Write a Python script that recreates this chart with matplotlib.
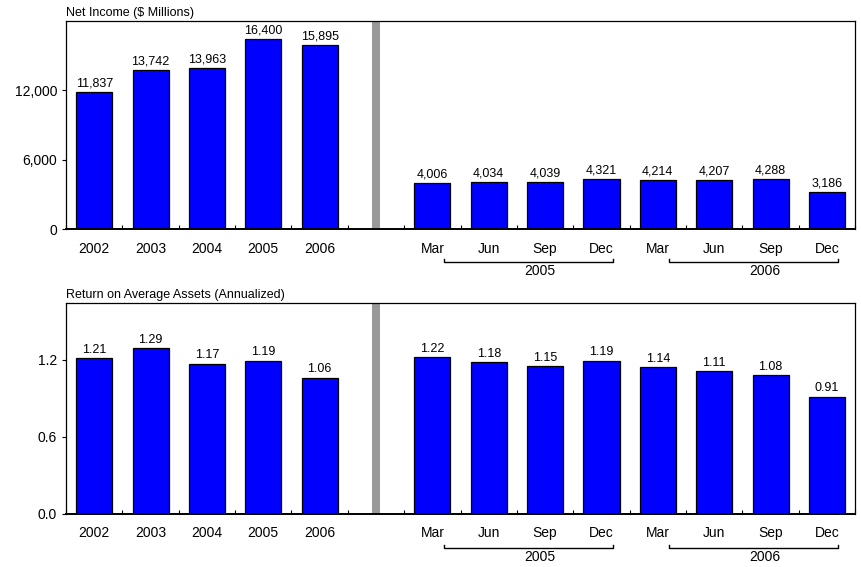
import matplotlib.pyplot as plt
import matplotlib.transforms as mtransforms
import numpy as np

plt.rcParams["font.family"] = ["Liberation Sans", "DejaVu Sans"]

# --- data ---
years = ["2002", "2003", "2004", "2005", "2006"]
quarters = ["Mar", "Jun", "Sep", "Dec", "Mar", "Jun", "Sep", "Dec"]
quarter_years = ["2005", "2006"]

ni_annual = [11837, 13742, 13963, 16400, 15895]
ni_quarter = [4006, 4034, 4039, 4321, 4214, 4207, 4288, 3186]

roa_annual = [1.21, 1.29, 1.17, 1.19, 1.06]
roa_quarter = [1.22, 1.18, 1.15, 1.19, 1.14, 1.11, 1.08, 0.91]

labels = years + [""] + quarters
n_slots = len(labels)
x_annual = np.arange(len(years))
x_quarter = np.arange(len(years) + 1, n_slots)

fig = plt.figure(figsize=(8.62, 5.67), dpi=100)
ax1 = fig.add_axes([0.0766, 0.596, 0.9154, 0.367])
ax2 = fig.add_axes([0.0766, 0.0935, 0.9154, 0.372])


def draw_panel(ax, annual, quarter, ylim, yticks, fmt, title):
    vals = list(annual) + list(quarter)
    xs = list(x_annual) + list(x_quarter)
    ax.bar(xs, vals, width=0.64, color="#0000ff", edgecolor="black", linewidth=0.9, zorder=2)
    for x, v in zip(xs, vals):
        ax.text(x, v + ylim * 0.012, fmt(v), ha="center", va="bottom", fontsize=9)
    ax.axvspan(len(years) - 0.07, len(years) + 0.07, color="#999999", zorder=1, lw=0)
    ax.set_xlim(-0.5, n_slots - 0.5)
    ax.set_ylim(0, ylim)
    ax.set_yticks(yticks)
    ax.set_yticklabels([fmt(t) if t > 0 else ("0" if fmt(1000) == "1,000" else "0.0") for t in yticks],
                       fontsize=10)
    ax.set_xticks(np.arange(n_slots))
    ax.set_xticklabels(labels, fontsize=10)
    ax.tick_params(axis="x", which="major", length=0, pad=9)
    ax.set_xticks(np.arange(n_slots + 1) - 0.5, minor=True)
    ax.tick_params(axis="x", which="minor", direction="in", length=3, width=0.8)
    ax.tick_params(axis="y", direction="out", length=3, width=0.8)
    for sp in ax.spines.values():
        sp.set_linewidth(0.9)
    ax.spines["bottom"].set_linewidth(1.4)
    ax.text(0, 1.01, title, transform=ax.transAxes, ha="left", va="bottom", fontsize=9)

    # year brackets under the quarterly labels
    trans = mtransforms.blended_transform_factory(ax.transData, ax.transAxes)
    for i, yr in enumerate(quarter_years):
        x0 = x_quarter[i * 4] + 0.2
        x1 = x_quarter[i * 4 + 3] + 0.2
        yb, yt = -0.16, -0.145
        ax.plot([x0, x0, x1, x1], [yt, yb, yb, yt], color="black", lw=1.0,
                transform=trans, clip_on=False)
        ax.text((x0 + x1) / 2 + 0.2, yb - 0.01, yr, transform=trans, ha="center",
                va="top", fontsize=10)


draw_panel(ax1, ni_annual, ni_quarter, 18000, [0, 6000, 12000],
           lambda v: f"{v:,.0f}", "Net Income ($ Millions)")
draw_panel(ax2, roa_annual, roa_quarter, 1.64, [0.0, 0.6, 1.2],
           lambda v: f"{v:.2f}" if v not in (0.6, 1.2) else f"{v:.1f}",
           "Return on Average Assets (Annualized)")
ax2.set_yticklabels(["0.0", "0.6", "1.2"], fontsize=10)

fig.savefig("out.png", dpi=100)
